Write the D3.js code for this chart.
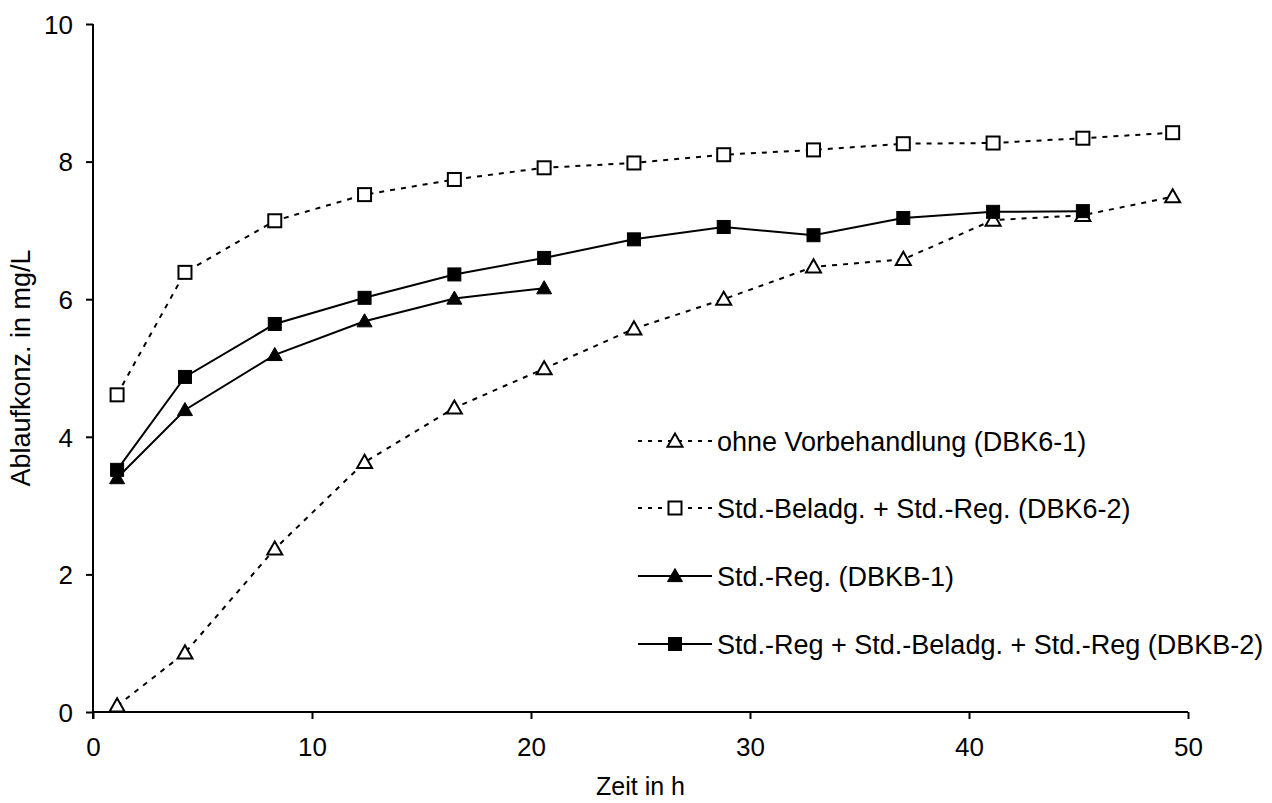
<!DOCTYPE html>
<html>
<head>
<meta charset="utf-8">
<script src="https://cdnjs.cloudflare.com/ajax/libs/d3/7.8.5/d3.min.js"></script>
<style>
  body { margin: 0; background: #fff; }
  text { font-family: "Liberation Sans", Arial, sans-serif; fill: #000; }
</style>
</head>
<body>
<script>
// Zeit in h
let zeit = [1.1, 4.2, 8.3, 12.4, 16.5, 20.6, 24.7, 28.8, 32.9, 37.0, 41.1, 45.2, 49.3];

// Ablaufkonzentrationen in mg/L
let ohneVorbehandlung = [0.09, 0.86, 2.37, 3.63, 4.42, 4.99, 5.57, 6.00, 6.47, 6.58, 7.15, 7.22, 7.49];
let beladgReg = [4.61, 6.39, 7.14, 7.52, 7.74, 7.91, 7.98, 8.10, 8.17, 8.26, 8.27, 8.34, 8.42];
let stdReg = [3.40, 4.39, 5.19, 5.68, 6.01, 6.16];
let regBeladgReg = [3.52, 4.87, 5.64, 6.02, 6.36, 6.60, 6.87, 7.05, 6.93, 7.18, 7.27, 7.28];

let seriesNames = [
    "ohne Vorbehandlung (DBK6-1)",
    "Std.-Beladg. + Std.-Reg. (DBK6-2)",
    "Std.-Reg. (DBKB-1)",
    "Std.-Reg + Std.-Beladg. + Std.-Reg (DBKB-2)"
];

let xTicks = [0, 10, 20, 30, 40, 50];
let yTicks = [0, 2, 4, 6, 8, 10];

let fullSVGWidth = 1272;
let fullSVGHeight = 803;

let margins = { top: 24, right: 84, bottom: 91, left: 93 };

let x = d3.scaleLinear().domain([0, 50]).range([margins.left, fullSVGWidth - margins.right]);
let y = d3.scaleLinear().domain([0, 10]).range([fullSVGHeight - margins.bottom, margins.top]);

let series = [
    { name: seriesNames[0], values: ohneVorbehandlung, marker: "triangle", filled: false, dashed: true },
    { name: seriesNames[1], values: beladgReg, marker: "square", filled: false, dashed: true },
    { name: seriesNames[2], values: stdReg, marker: "triangle", filled: true, dashed: false },
    { name: seriesNames[3], values: regBeladgReg, marker: "square", filled: true, dashed: false }
];

let svg = d3.select("body")
    .append("svg")
    .attr("width", fullSVGWidth)
    .attr("height", fullSVGHeight);

//Axes
let xAxis = d3.axisBottom(x).tickValues(xTicks).tickSize(7).tickPadding(19);
let yAxis = d3.axisLeft(y).tickValues(yTicks).tickSize(7).tickPadding(13);

let gx = svg.append("g")
    .attr("transform", "translate(0," + y(0) + ")")
    .call(xAxis);

let gy = svg.append("g")
    .attr("transform", "translate(" + x(0) + ",0)")
    .call(yAxis);

[gx, gy].forEach(function(g) {
    g.select(".domain").attr("stroke", "#000").attr("stroke-width", 2);
    g.selectAll(".tick line").attr("stroke", "#000").attr("stroke-width", 2);
    g.selectAll(".tick text").style("font-size", "26px").style("font-family", "'Liberation Sans', Arial, sans-serif");
});
gx.select(".domain").attr("d", "M" + (x(0) - 1) + ",0H" + x(50));
gy.select(".domain").attr("d", "M0," + y(10) + "V" + (y(0) + 7));
gy.selectAll(".tick text").attr("dy", "0.36em");

//Axis titles
svg.append("text")
    .attr("x", (x(0) + x(50)) / 2)
    .attr("y", 795)
    .attr("text-anchor", "middle")
    .style("font-size", "25px")
    .text("Zeit in h");

svg.append("text")
    .attr("transform", "translate(30," + y(5) + ") rotate(-90)")
    .attr("text-anchor", "middle")
    .style("font-size", "27px")
    .text("Ablaufkonz. in mg/L");

function drawMarker(g, type, filled, cx, cy) {
    if (type === "square") {
        g.append("rect")
            .attr("x", cx - 6.5).attr("y", cy - 6.5)
            .attr("width", 13).attr("height", 13)
            .attr("fill", filled ? "#000" : "#fff")
            .attr("stroke", "#000")
            .attr("stroke-width", filled ? 1 : 2);
    } else {
        let s = 7.5;
        g.append("path")
            .attr("d", "M" + cx + "," + (cy - s) + "L" + (cx + s) + "," + (cy + s * 0.75) + "L" + (cx - s) + "," + (cy + s * 0.75) + "Z")
            .attr("fill", filled ? "#000" : "#fff")
            .attr("stroke", "#000")
            .attr("stroke-width", filled ? 1 : 2)
            .attr("stroke-linejoin", "miter");
    }
}

let line = d3.line()
    .x(function(d) { return x(d[0]); })
    .y(function(d) { return y(d[1]); });

series.forEach(function(s) {
    let pts = s.values.map(function(v, i) { return [zeit[i], v]; });
    let g = svg.append("g");
    g.append("path")
        .datum(pts)
        .attr("d", line)
        .attr("fill", "none")
        .attr("stroke", "#000")
        .attr("stroke-width", 2)
        .attr("stroke-dasharray", s.dashed ? "5,6" : null);
    pts.forEach(function(p) {
        drawMarker(g, s.marker, s.filled, x(p[0]), y(p[1]));
    });
});

//Legend
let legendX = 638;
let legendY = [441, 508, 576, 644];

series.forEach(function(s, i) {
    let g = svg.append("g");
    let ly = legendY[i];
    g.append("line")
        .attr("x1", legendX).attr("x2", legendX + 74)
        .attr("y1", ly).attr("y2", ly)
        .attr("stroke", "#000")
        .attr("stroke-width", 2)
        .attr("stroke-dasharray", s.dashed ? "4,6" : null);
    drawMarker(g, s.marker, s.filled, legendX + 37, ly);
    g.append("text")
        .attr("x", legendX + 79)
        .attr("y", ly)
        .attr("dy", "0.36em")
        .style("font-size", "27px")
        .text(s.name);
});
</script>
</body>
</html>
